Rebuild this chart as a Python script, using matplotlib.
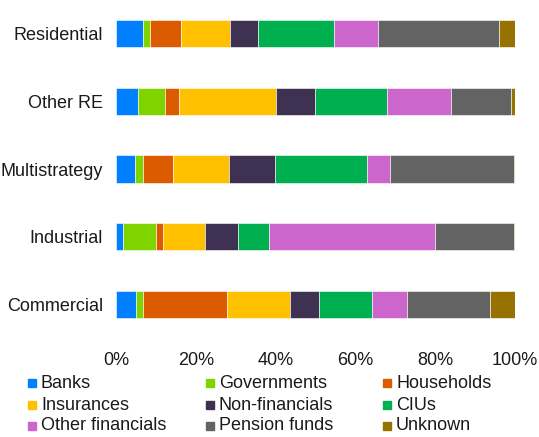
import matplotlib.pyplot as plt
from matplotlib.patches import Rectangle

plt.rcParams['font.family'] = ['Liberation Sans', 'DejaVu Sans']

categories = ['Residential', 'Other RE', 'Multistrategy', 'Industrial', 'Commercial']
sectors = ['Banks', 'Governments', 'Households', 'Insurances', 'Non-financials',
           'CIUs', 'Other financials', 'Pension funds', 'Unknown']
colors = ['#0080FF', '#7FD400', '#DC5A00', '#FFC000', '#3F3151',
          '#00AF50', '#CC66CC', '#636363', '#967300']

# shares in % per category (order of sectors)
residential = [6.75, 1.85, 7.8, 12.1, 7.2, 19.05, 11.0, 30.25, 4.0]
other_re = [5.4, 6.8, 3.5, 24.3, 9.9, 18.1, 15.85, 15.05, 1.1]
multistrategy = [4.7, 2.05, 7.6, 13.85, 11.7, 23.1, 5.6, 31.15, 0.25]
industrial = [1.7, 8.3, 1.75, 10.65, 8.3, 7.7, 41.45, 19.9, 0.25]
commercial = [4.9, 1.85, 21.1, 15.65, 7.4, 13.35, 8.6, 20.9, 6.25]

rows = [residential, other_re, multistrategy, industrial, commercial]

W, H = 539, 437
fig = plt.figure(figsize=(W / 100, H / 100), dpi=100)
ax = fig.add_axes([116 / W, 1 - 338 / H, 399 / W, 338 / H])

for j, sector in enumerate(sectors):
    vals = [r[j] / 100 for r in rows]
    lefts = [sum(r[:j]) / 100 for r in rows]
    ax.barh(range(len(categories)), vals, left=lefts, height=0.4,
            color=colors[j], edgecolor='white', linewidth=0.4, label=sector)

ax.set_xlim(0, 1)
ax.set_ylim(4.5, -0.5)
ax.set_yticks(range(len(categories)))
ax.set_yticklabels(categories)
ax.set_xticks([0, 0.2, 0.4, 0.6, 0.8, 1.0])
ax.set_xticklabels(['0%', '20%', '40%', '60%', '80%', '100%'])
ax.tick_params(axis='both', length=0, labelsize=13, colors='#1a1a1a')
ax.tick_params(axis='y', pad=9.5)
ax.tick_params(axis='x', pad=10)
for s in ax.spines.values():
    s.set_visible(False)

# legend, drawn row by row
col_x = [28, 206, 383]
row_y = [383, 405, 426]
for i, sector in enumerate(sectors):
    x = col_x[i % 3]
    y = row_y[i // 3]
    fig.add_artist(Rectangle((x / W, 1 - (y + 4) / H), 8 / W, 8 / H,
                             transform=fig.transFigure, color=colors[i]))
    fig.text((x + 13) / W, 1 - y / H, sector, fontsize=13, color='#1a1a1a',
             va='center', ha='left')

fig.savefig('out.png', dpi=100)
